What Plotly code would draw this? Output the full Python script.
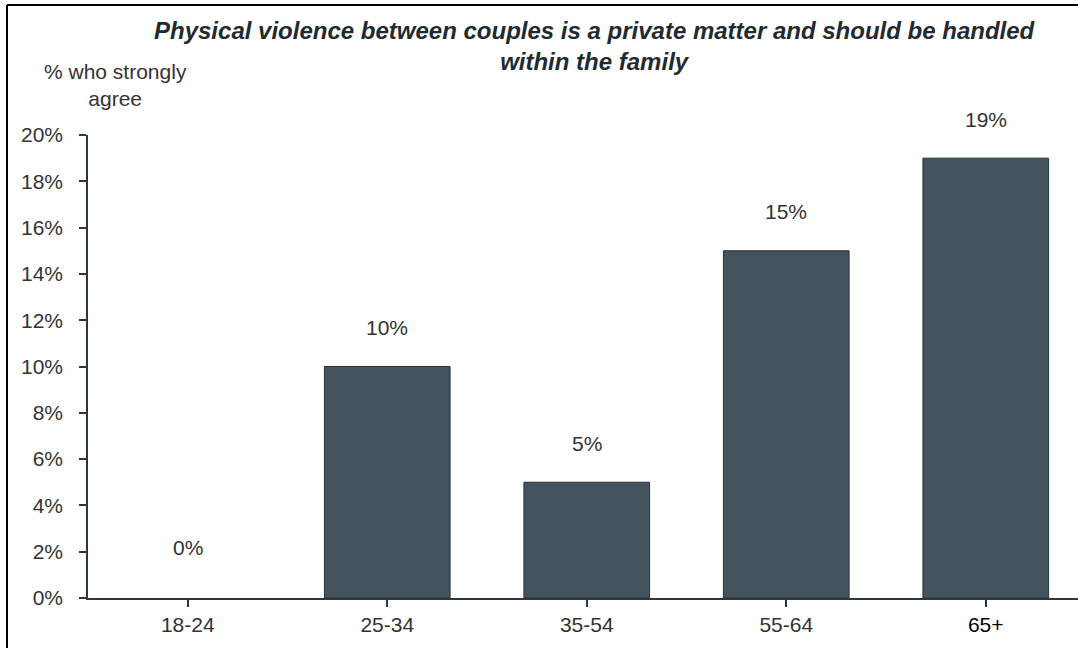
import plotly.graph_objects as go

categories = ["18-24", "25-34", "35-54", "55-64", "65+"]
values = [0, 10, 5, 15, 19]
label_texts = ["0%", "10%", "5%", "15%", "19%"]
y_ticks = [0, 2, 4, 6, 8, 10, 12, 14, 16, 18, 20]
y_tick_labels = [f"{v}%" for v in y_ticks]

W, H = 1078, 648
L, R, T, B = 88, 0, 135, 50
pw = W - L - R
ph = H - T - B

def px_x(px):
    return (px - L) / pw

def px_y(py):
    return (H - B - py) / ph

font_family = "Liberation Sans, Arial, sans-serif"
text_col = "#333333"
fs = 21

tick_text = [c if c != "65+" else "<span style='color:#000000'>65+</span>" for c in categories]

fig = go.Figure()
fig.add_trace(go.Bar(
    x=list(range(len(categories))), y=values,
    width=0.63,
    marker=dict(color="#44535e",
                line=dict(color="#26323a", width=[0 if v == 0 else 1 for v in values])),
    hoverinfo="skip",
))

annotations = []
for i, (v, t) in enumerate(zip(values, label_texts)):
    annotations.append(dict(
        x=i, y=v, xref="x", yref="y", text=t, showarrow=False,
        yanchor="middle", yshift=51 if v == 0 else 39,
        font=dict(family=font_family, size=fs, color=text_col),
    ))

annotations.append(dict(
    x=px_x(595), y=px_y(46), xref="paper", yref="paper",
    text="<b><i>Physical violence between couples is a private matter and should be handled<br>within the family</i></b>",
    showarrow=False, xanchor="center", yanchor="middle",
    font=dict(family=font_family, size=24, color="#1f2a31"),
))
annotations.append(dict(
    x=px_x(115), y=px_y(85), xref="paper", yref="paper",
    text="% who strongly<br>agree", showarrow=False,
    xanchor="center", yanchor="middle",
    font=dict(family=font_family, size=fs, color=text_col),
))

shapes = [
    dict(type="line", xref="paper", yref="paper",
         x0=px_x(7), x1=px_x(1090), y0=px_y(5), y1=px_y(5),
         line=dict(color="#000000", width=2)),
    dict(type="line", xref="paper", yref="paper",
         x0=px_x(7), x1=px_x(7), y0=px_y(5), y1=px_y(660),
         line=dict(color="#000000", width=2)),
]

span = pw / 199.5
fig.update_layout(
    width=W, height=H,
    margin=dict(l=L, r=R, t=T, b=B, pad=0),
    paper_bgcolor="white", plot_bgcolor="white",
    showlegend=False,
    annotations=annotations,
    shapes=shapes,
    xaxis=dict(
        tickmode="array", tickvals=list(range(len(categories))), ticktext=tick_text,
        range=[-0.5, -0.5 + span],
        showgrid=False, zeroline=False,
        showline=True, linecolor="#2b3840", linewidth=1.5,
        ticks="outside", ticklen=7, tickcolor="#2b3840", tickwidth=1.5,
        tickson="boundaries",
        tickfont=dict(family=font_family, size=fs, color=text_col),
        fixedrange=True,
    ),
    yaxis=dict(
        range=[0, 20], tickvals=y_ticks, ticktext=y_tick_labels,
        showgrid=False, zeroline=False,
        showline=True, linecolor="#2b3840", linewidth=1.5,
        ticks="outside", ticklen=7, tickcolor="#2b3840", tickwidth=1.5,
        tickfont=dict(family=font_family, size=fs, color=text_col),
        ticklabelstandoff=12,
        fixedrange=True,
    ),
)

fig.write_html("out.html", config={"displayModeBar": False})

with open("out.html", "r", encoding="utf-8") as f:
    html = f.read()
html = html.replace("<head>", "<head><style>html,body{margin:0;padding:0;overflow:hidden;}</style>", 1)
with open("out.html", "w", encoding="utf-8") as f:
    f.write(html)
